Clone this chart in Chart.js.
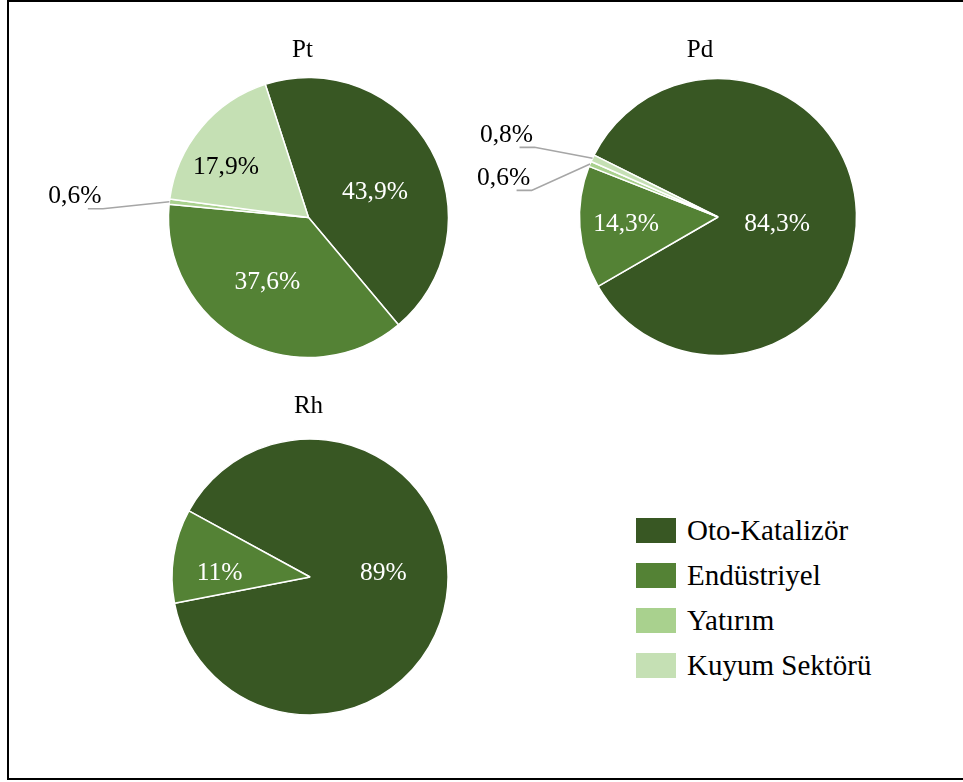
<!DOCTYPE html>
<html lang="tr">
<head>
<meta charset="utf-8">
<title>Pt, Pd ve Rh kullanım alanları</title>
<script src="https://cdn.jsdelivr.net/npm/chart.js@4.4.1/dist/chart.umd.min.js"></script>
<style>
  html, body { margin: 0; padding: 0; background: #fff; }
  body {
    width: 963px; height: 782px; position: relative; overflow: hidden;
    font-family: 'Liberation Serif', 'Times New Roman', serif;
  }
  .frame {
    position: absolute; left: 7px; top: 0; width: 1000px; height: 780px;
    border: 2px solid #000; box-sizing: border-box;
  }
  .pie { position: absolute; }
  .legend { position: absolute; left: 636px; top: 508px; }
  .legend-row { display: flex; align-items: center; height: 45px; font-size: 29px; color: #000; }
  .legend-box { width: 40px; height: 25px; margin-right: 11px; }
</style>
</head>
<body>
<div class="frame"></div>
<canvas id="ptChart" class="pie"></canvas>
<canvas id="pdChart" class="pie"></canvas>
<canvas id="rhChart" class="pie"></canvas>
<div class="legend" id="legend"></div>

<script>
// Kullanım alanları (%)
const categories = ['Oto-Katalizör', 'Endüstriyel', 'Yatırım', 'Kuyum Sektörü'];
const ptValues = [43.9, 37.6, 0.6, 17.9];
const pdValues = [84.3, 14.3, 0.6, 0.8];
const rhValues = [89, 11];
const sliceColors = ['#385723', '#548235', '#a9d18e', '#c5e0b4'];

// Label placement per slice: inside = nudge from 60% radius, outside = text offset from the rim
const ptLabels = [
    { inside: [-7, 15], color: '#fff' },
    { inside: [-2, -10], color: '#fff' },
    { outside: [-94.5, -5] },
    { inside: [-18, 4], color: '#000' }
];
const pdLabels = [
    { inside: [-24, 10], color: '#fff' },
    { inside: [-9, 1], color: '#fff' },
    { outside: [-86.5, 14.5] },
    { outside: [-86, -23] }
];
const rhLabels = [
    { inside: [-8.5, -16], color: '#fff' },
    { inside: [-8.5, 9], color: '#fff' }
];

const SERIF = "'Liberation Serif', 'Times New Roman', serif";

function formatPercent(v) {
    return String(v).replace('.', ',') + '%';
}

// Percent labels, with leader lines for the thin slices
const sliceLabels = {
    id: 'sliceLabels',
    afterDatasetsDraw(chart, args, opts) {
        const ctx = chart.ctx;
        const meta = chart.getDatasetMeta(0);
        const values = chart.data.datasets[0].data;
        ctx.save();
        ctx.font = '25.5px ' + SERIF;
        ctx.textAlign = 'center';
        ctx.textBaseline = 'middle';
        meta.data.forEach((arc, i) => {
            const place = opts.placements[i];
            if (!place) return;
            const {x, y, startAngle, endAngle, outerRadius} =
                arc.getProps(['x', 'y', 'startAngle', 'endAngle', 'outerRadius'], true);
            const mid = (startAngle + endAngle) / 2;
            const text = formatPercent(values[i]);
            if (place.inside) {
                const r = outerRadius * 0.6;
                ctx.fillStyle = place.color;
                ctx.fillText(text, x + Math.cos(mid) * r + place.inside[0], y + Math.sin(mid) * r + place.inside[1]);
            } else {
                const ex = x + Math.cos(mid) * outerRadius;
                const ey = y + Math.sin(mid) * outerRadius;
                const tx = ex + place.outside[0];
                const ty = ey + place.outside[1];
                ctx.strokeStyle = '#a6a6a6';
                ctx.lineWidth = 1.6;
                ctx.beginPath();
                ctx.moveTo(ex, ey);
                ctx.lineTo(tx + 28, ty + 12);
                ctx.lineTo(tx + 13, ty + 12);
                ctx.stroke();
                ctx.fillStyle = '#000';
                ctx.fillText(text, tx, ty);
            }
        });
        ctx.restore();
    }
};

// Metal name above each pie
const pieName = {
    id: 'pieName',
    afterDraw(chart, args, opts) {
        const {left, right, top, bottom} = chart.chartArea;
        const ctx = chart.ctx;
        ctx.save();
        ctx.font = '25px ' + SERIF;
        ctx.fillStyle = '#000';
        ctx.textAlign = 'center';
        ctx.textBaseline = 'alphabetic';
        ctx.fillText(opts.text, (left + right) / 2 + opts.dx, (top + bottom) / 2 + opts.dy);
        ctx.restore();
    }
};

const pies = [
    { canvas: 'ptChart', name: 'Pt', values: ptValues, labels: ptLabels,
      box: [28, 27, 561, 381], radius: 140, rotation: -18, nameOffset: [-6, -160.8] },
    { canvas: 'pdChart', name: 'Pd', values: pdValues, labels: pdLabels,
      box: [470, 27, 496, 380], radius: 138.5, rotation: -63.5, nameOffset: [-18, -160.3] },
    { canvas: 'rhChart', name: 'Rh', values: rhValues, labels: rhLabels,
      box: [150, 382, 320, 390], radius: 138, rotation: -61.4, nameOffset: [-1.5, -163.7] }
];

pies.forEach(p => {
    const el = document.getElementById(p.canvas);
    const [left, top, w, h] = p.box;
    el.style.left = left + 'px';
    el.style.top = top + 'px';
    el.width = w;
    el.height = h;

    new Chart(el, {
        type: 'pie',
        data: {
            labels: categories.slice(0, p.values.length),
            datasets: [{
                data: p.values,
                backgroundColor: sliceColors,
                borderColor: '#fff',
                borderWidth: 1.5,
                radius: p.radius,
                hoverOffset: 0
            }]
        },
        options: {
            responsive: false,
            animation: false,
            rotation: p.rotation,
            layout: { padding: 0 },
            plugins: {
                legend: { display: false },
                title: { display: false },
                tooltip: { enabled: false },
                sliceLabels: { placements: p.labels },
                pieName: { text: p.name, dx: p.nameOffset[0], dy: p.nameOffset[1] }
            }
        },
        plugins: [sliceLabels, pieName]
    });
});

// Shared legend
const legend = document.getElementById('legend');
legend.innerHTML = categories.map((c, i) => `
    <div class="legend-row">
        <span class="legend-box" style="background:${sliceColors[i]}"></span>
        <span>${c}</span>
    </div>
`).join('');
</script>
</body>
</html>
